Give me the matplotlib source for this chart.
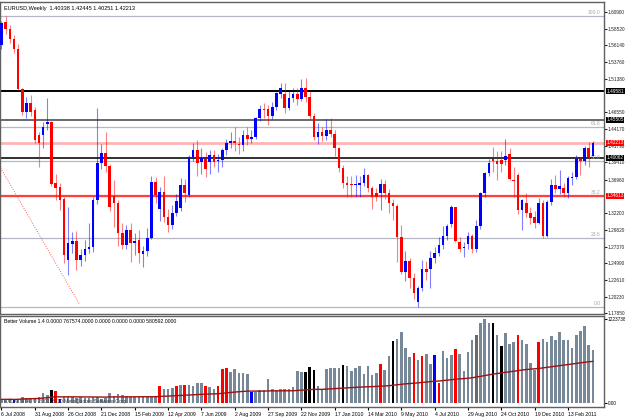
import pandas as pd
import matplotlib.pyplot as plt

# EURUSD weekly, 6 Jul 2008 .. 27 Mar 2011 (one row per week)
opens = [1.5620, 1.5950, 1.5840, 1.5700, 1.5560, 1.4990, 1.4660, 1.4790, 1.4690, 1.4330,
         1.4332, 1.4490, 1.4518, 1.3647, 1.3590, 1.3418, 1.2547, 1.2775, 1.2818, 1.2547,
         1.2618, 1.2704, 1.2733, 1.3404, 1.3932, 1.4075, 1.3890, 1.3460, 1.3361, 1.2932,
         1.2761, 1.2975, 1.2790, 1.2832, 1.2632, 1.2675, 1.2861, 1.3661, 1.3275, 1.3518,
         1.3161, 1.3047, 1.3218, 1.3290, 1.3618, 1.3475, 1.4018, 1.4118, 1.3946, 1.3990,
         1.3947, 1.4047, 1.3965, 1.3975, 1.4118, 1.4218, 1.4247, 1.4200, 1.4190, 1.4332,
         1.4275, 1.4304, 1.4575, 1.4704, 1.4704, 1.4604, 1.4732, 1.4918, 1.4918, 1.4718,
         1.4861, 1.4918, 1.4847, 1.5004, 1.4875, 1.4604, 1.4304, 1.4375, 1.4318, 1.4404,
         1.4347, 1.4147, 1.3861, 1.3647, 1.3625, 1.3615, 1.3618, 1.3647, 1.3761, 1.3575,
         1.3504, 1.3504, 1.3632, 1.3504, 1.3361, 1.3318, 1.2875, 1.2375, 1.2532, 1.2290,
         1.1947, 1.2147, 1.2418, 1.2418, 1.2575, 1.2647, 1.2761, 1.2890, 1.3061, 1.3304,
         1.2800, 1.2718, 1.2775, 1.2890, 1.2704, 1.3032, 1.3504, 1.3790, 1.3990, 1.3961,
         1.3975, 1.3975, 1.4061, 1.3690, 1.3761, 1.3261, 1.3361, 1.3218, 1.3161, 1.3075,
         1.3361, 1.2890, 1.3375, 1.3618, 1.3561, 1.3575, 1.3504, 1.3718, 1.3733, 1.3990,
         1.3961, 1.4147, 1.40338]
highs = [1.5960, 1.6035, 1.5900, 1.5760, 1.5630, 1.5000, 1.4870, 1.4900, 1.4730, 1.4380,
         1.4520, 1.4861, 1.4530, 1.3775, 1.3650, 1.3450, 1.3300, 1.2950, 1.2960, 1.2700,
         1.2830, 1.3080, 1.3450, 1.4718, 1.4200, 1.4380, 1.3920, 1.3690, 1.3400, 1.3070,
         1.3050, 1.3075, 1.2930, 1.2980, 1.2750, 1.3000, 1.3740, 1.3730, 1.3590, 1.3740,
         1.3280, 1.3330, 1.3490, 1.3720, 1.3700, 1.4050, 1.4220, 1.4260, 1.4150, 1.4090,
         1.4120, 1.4118, 1.4060, 1.4150, 1.4270, 1.4370, 1.4440, 1.4310, 1.4400, 1.4450,
         1.4400, 1.4590, 1.4760, 1.4790, 1.4760, 1.4800, 1.4950, 1.5080, 1.5070, 1.4960,
         1.5000, 1.5000, 1.5132, 1.5140, 1.4960, 1.4640, 1.4500, 1.4450, 1.4560, 1.4570,
         1.4400, 1.4160, 1.3900, 1.3740, 1.3750, 1.3760, 1.3740, 1.3860, 1.3780, 1.3600,
         1.3580, 1.3700, 1.3690, 1.3560, 1.3420, 1.3350, 1.3040, 1.2680, 1.2580, 1.2360,
         1.2180, 1.2550, 1.2530, 1.2680, 1.2730, 1.2880, 1.3030, 1.3060, 1.3330, 1.3310,
         1.2880, 1.2810, 1.2950, 1.2920, 1.3120, 1.3520, 1.3800, 1.3990, 1.4161, 1.4100,
         1.4100, 1.4282, 1.4140, 1.3870, 1.3790, 1.3420, 1.3500, 1.3300, 1.3240, 1.3430,
         1.3400, 1.3400, 1.3700, 1.3760, 1.3832, 1.3640, 1.3740, 1.3800, 1.4040, 1.4020,
         1.4170, 1.4232, 1.42445]
lows = [1.5560, 1.5780, 1.5650, 1.5500, 1.4980, 1.4620, 1.4580, 1.4600, 1.4220, 1.3880,
        1.4150, 1.4400, 1.3600, 1.3400, 1.3260, 1.2500, 1.2333, 1.2640, 1.2410, 1.2460,
        1.2530, 1.2640, 1.2660, 1.3350, 1.3840, 1.3800, 1.3250, 1.3020, 1.2750, 1.2700,
        1.2700, 1.2520, 1.2620, 1.2504, 1.2447, 1.2600, 1.2840, 1.3360, 1.3100, 1.3090,
        1.2950, 1.2990, 1.3170, 1.3240, 1.3380, 1.3440, 1.3960, 1.3750, 1.3780, 1.3730,
        1.3780, 1.3880, 1.3810, 1.3880, 1.4050, 1.4150, 1.4110, 1.4060, 1.4110, 1.4190,
        1.4220, 1.4280, 1.4530, 1.4580, 1.4480, 1.4560, 1.4690, 1.4860, 1.4640, 1.4690,
        1.4800, 1.4760, 1.4820, 1.4800, 1.4560, 1.4260, 1.4210, 1.4240, 1.4260, 1.4300,
        1.4030, 1.3800, 1.3580, 1.3440, 1.3440, 1.3450, 1.3450, 1.3600, 1.3520, 1.3270,
        1.3390, 1.3260, 1.3420, 1.3220, 1.3120, 1.2520, 1.2340, 1.2240, 1.2140, 1.1990,
        1.1876, 1.2110, 1.2260, 1.2150, 1.2510, 1.2600, 1.2700, 1.2830, 1.3020, 1.2800,
        1.2660, 1.2590, 1.2700, 1.2640, 1.2660, 1.2990, 1.3450, 1.3740, 1.3800, 1.3690,
        1.3800, 1.3900, 1.3690, 1.3450, 1.3200, 1.2975, 1.3160, 1.3060, 1.3000, 1.3060,
        1.2860, 1.2870, 1.3330, 1.3500, 1.3490, 1.3440, 1.3430, 1.3620, 1.3710, 1.3761,
        1.3900, 1.3870, 1.40251]
closes = [1.5930, 1.5840, 1.5700, 1.5560, 1.4990, 1.4660, 1.4790, 1.4660, 1.4261, 1.4218,
          1.4447, 1.4518, 1.3632, 1.3575, 1.3404, 1.2618, 1.2790, 1.2818, 1.2547, 1.2618,
          1.2704, 1.2733, 1.3404, 1.3932, 1.4075, 1.3890, 1.3304, 1.3360, 1.2932, 1.2761,
          1.2975, 1.2790, 1.2818, 1.2647, 1.2675, 1.2861, 1.3661, 1.3475, 1.3518, 1.3161,
          1.3047, 1.3218, 1.3390, 1.3618, 1.3504, 1.4018, 1.4118, 1.3932, 1.4004, 1.3850,
          1.4047, 1.3947, 1.3975, 1.4118, 1.4218, 1.4247, 1.4218, 1.4190, 1.4332, 1.4275,
          1.4304, 1.4575, 1.4704, 1.4690, 1.4604, 1.4732, 1.4932, 1.5004, 1.4718, 1.4861,
          1.4918, 1.4847, 1.5004, 1.4875, 1.4604, 1.4304, 1.4375, 1.4318, 1.4404, 1.4347,
          1.4147, 1.3861, 1.3647, 1.3618, 1.3615, 1.3625, 1.3647, 1.3761, 1.3575, 1.3447,
          1.3447, 1.3632, 1.3504, 1.3361, 1.3318, 1.2875, 1.2375, 1.2532, 1.2290, 1.2075,
          1.2147, 1.2418, 1.2375, 1.2575, 1.2647, 1.2761, 1.2890, 1.3032, 1.3304, 1.2818,
          1.2704, 1.2733, 1.2890, 1.2704, 1.3032, 1.3504, 1.3790, 1.3932, 1.3961, 1.3918,
          1.3918, 1.4032, 1.3704, 1.3680, 1.3261, 1.3404, 1.3218, 1.3147, 1.3075, 1.3361,
          1.2890, 1.3375, 1.3618, 1.3561, 1.3604, 1.3504, 1.3718, 1.3733, 1.3990, 1.3961,
          1.4147, 1.4018, 1.42213]

# Better Volume histogram: value and bar type per week
volumes = [48450, 48450, 53300, 38760, 58140, 77520, 67830, 67830, 67830, 87210,
           135660, 111435, 184110, 169575, 48450, 96900, 96900, 77520, 72675, 87210,
           62985, 67830, 82365, 87210, 58140, 62985, 140505, 92055, 125970, 106590,
           96900, 87210, 87210, 101745, 92055, 87210, 87210, 82365, 247095, 193800,
           193800, 208335, 247095, 251940, 261630, 256785, 242250, 290700, 281010, 242250,
           232560, 193800, 242250, 489345, 503880, 445740, 489345, 431205, 431205, 416670,
           159885, 159885, 184110, 184110, 343995, 198645, 184110, 198645, 198645, 193800,
           232560, 460275, 450585, 450585, 518415, 479655, 242250, 193800, 489345, 503880,
           508725, 503880, 542640, 528105, 465120, 503880, 532950, 416670, 528105, 397290,
           436050, 566865, 474810, 678300, 896325, 930240, 1027140, 799425, 668610, 721905,
           620160, 678300, 712215, 566865, 692835, 281010, 755820, 654075, 697680, 775200,
           707370, 455430, 736440, 910860, 988380, 1153110, 1223738, 1153110, 1153110, 988380,
           828495, 1007760, 847875, 886635, 988380, 906015, 847875, 571710, 469965, 876945,
           920550, 876945, 969000, 906015, 1031985, 906015, 906015, 789735, 988380, 1036830,
           1114350, 843030, 767574]
vol_type = ("nnnbnnnnnnnnkrbnnnnnnnnnnnnnnnnnnnnnnnrnnnrnrnnnnrnnrrrnnnnnbnnnnnnnnnnnnkkknnnnnnk"
            "nnnnnnnnrnnknnnnrnrnnbrnnnrnnnngnnnknknnnrnnnnrnnnnnnnnnn")

tick_pos = list(range(0, 137, 8))
tick_labels = ["6 Jul 2008", "31 Aug 2008", "26 Oct 2008", "21 Dec 2008", "15 Feb 2009",
               "12 Apr 2009", "7 Jun 2009", "2 Aug 2009", "27 Sep 2009", "22 Nov 2009",
               "17 Jan 2010", "14 Mar 2010", "9 May 2010", "4 Jul 2010", "29 Aug 2010",
               "24 Oct 2010", "19 Dec 2010", "13 Feb 2011"]

price_ticks = [1.60900, 1.58520, 1.56140, 1.53760, 1.51380, 1.46550, 1.44170, 1.41790,
               1.39410, 1.36960, 1.32200, 1.29820, 1.27370, 1.24990, 1.22610, 1.20230, 1.17850]

# horizontal levels drawn on the chart
level_prices = [1.49581, 1.45505, 1.42213, 1.40062, 1.34613]
level_colors = ["black", "#505050", "#ffb4b4", "#303030", "#ff4040"]
level_widths = [1.4, 1.2, 2.0, 1.4, 1.6]

fib_high = 1.6038
fib_low = 1.1876
fib_levels = [0.0, 23.6, 38.2, 50.0, 61.8, 100.0]

trend_x = [-0.5, 18.8]
trend_y = [1.3890, 1.1905]

plt.rcParams["font.family"] = ["Liberation Sans", "DejaVu Sans"]

df = pd.DataFrame({"open": opens, "high": highs, "low": lows, "close": closes, "vol": volumes})
df["up"] = df["close"] >= df["open"]
df["vma"] = df["vol"].rolling(100, min_periods=1).mean()
x = df.index.values

fig = plt.figure(figsize=(6.25, 4.17), dpi=100)
ax1 = fig.add_axes([0.0, 0.2470, 0.9664, 0.7482])
ax2 = fig.add_axes([0.0, 0.0240, 0.9664, 0.2182])

xmin, xmax = -0.36, 144.66
lab_size = 3.4

# --- price panel ---
for lv in fib_levels:
    p = fib_low + (fib_high - fib_low) * lv / 100
    ax1.axhline(p, color="#b4b8c4", lw=0.9, zorder=1)
    ax1.text(143.8, p + 0.0012, f"{lv:.1f}", color="#a8a8a8", fontsize=3.6, ha="right", va="bottom")

for p, c, w in zip(level_prices, level_colors, level_widths):
    ax1.axhline(p, color=c, lw=w, zorder=1.5)

ax1.plot(trend_x, trend_y, color="#ff6060", lw=0.7, ls=(0, (1, 1.5)), zorder=1)

colors = df["up"].map({True: "#0000ff", False: "#ff0000"})
ax1.vlines(x, df["low"], df["high"], colors=colors, lw=0.8, alpha=0.5, zorder=2)
body_lo = df[["open", "close"]].min(axis=1)
body_h = (df["close"] - df["open"]).abs().clip(lower=0.0009)
ax1.bar(x, body_h, bottom=body_lo, width=0.62, color=colors, lw=0, zorder=3)

ax1.set_xlim(xmin, xmax)
ax1.set_ylim(1.1775, 1.6232)
ax1.set_xticks([])
ax1.yaxis.tick_right()
ax1.set_yticks(price_ticks)
ax1.set_yticklabels([f"{t:.5f}" for t in price_ticks])
ax1.tick_params(axis="y", labelsize=lab_size, length=2, pad=0.8, colors="#202020")

box_colors = ["black", "black", "#ff0000", "black", "#ff0000"]
for p, fc in zip(level_prices, box_colors):
    ax1.text(1.004, p, f"{p:.5f}", transform=ax1.get_yaxis_transform(), fontsize=lab_size,
             color="white", va="center", ha="left", zorder=5,
             bbox=dict(boxstyle="square,pad=0.1", fc=fc, ec="none"))

ax1.text(0.006, 0.987, "EURUSD,Weekly  1.40338 1.42445 1.40251 1.42213", transform=ax1.transAxes,
         fontsize=4.0, va="top", ha="left", color="black")

# --- volume panel ---
vcol = {"n": "#778899", "r": "#ff0000", "k": "#000000", "b": "#0000ff", "g": "#6a6a6a"}
ax2.bar(x, df["vol"], width=0.62, color=[vcol[t] for t in vol_type], lw=0, zorder=2)
ax2.plot(x, df["vma"], color="#a01010", lw=1.0, zorder=3)
ax2.set_xlim(xmin, xmax)
ax2.set_ylim(-62500, 1260100)
ax2.yaxis.tick_right()
ax2.set_yticks([1223738, 0])
ax2.set_yticklabels(["1223738", "0.00"])
ax2.tick_params(axis="y", labelsize=lab_size, length=2, pad=0.8)
ax2.set_xticks(tick_pos)
ax2.set_xticklabels(tick_labels, ha="left")
ax2.tick_params(axis="x", labelsize=3.7, length=2, pad=1.5)

ax2.text(0.006, 0.97, "Better Volume 1.4 0.0000 767574.0000 0.0000 0.0000 0.0000 580592.0000",
         transform=ax2.transAxes, fontsize=3.7, va="top", ha="left")
ax2.text(0.006, 0.03, "FXCM MT4, \u00a9 2001-2010 MetaQuotes Software Corp.",
         transform=ax2.transAxes, fontsize=3.7, va="bottom", ha="left", color="#404040", zorder=5)

for ax in (ax1, ax2):
    for s in ax.spines.values():
        s.set_color("#606060")
        s.set_linewidth(1.0)

plt.savefig("out.png", dpi=100)
